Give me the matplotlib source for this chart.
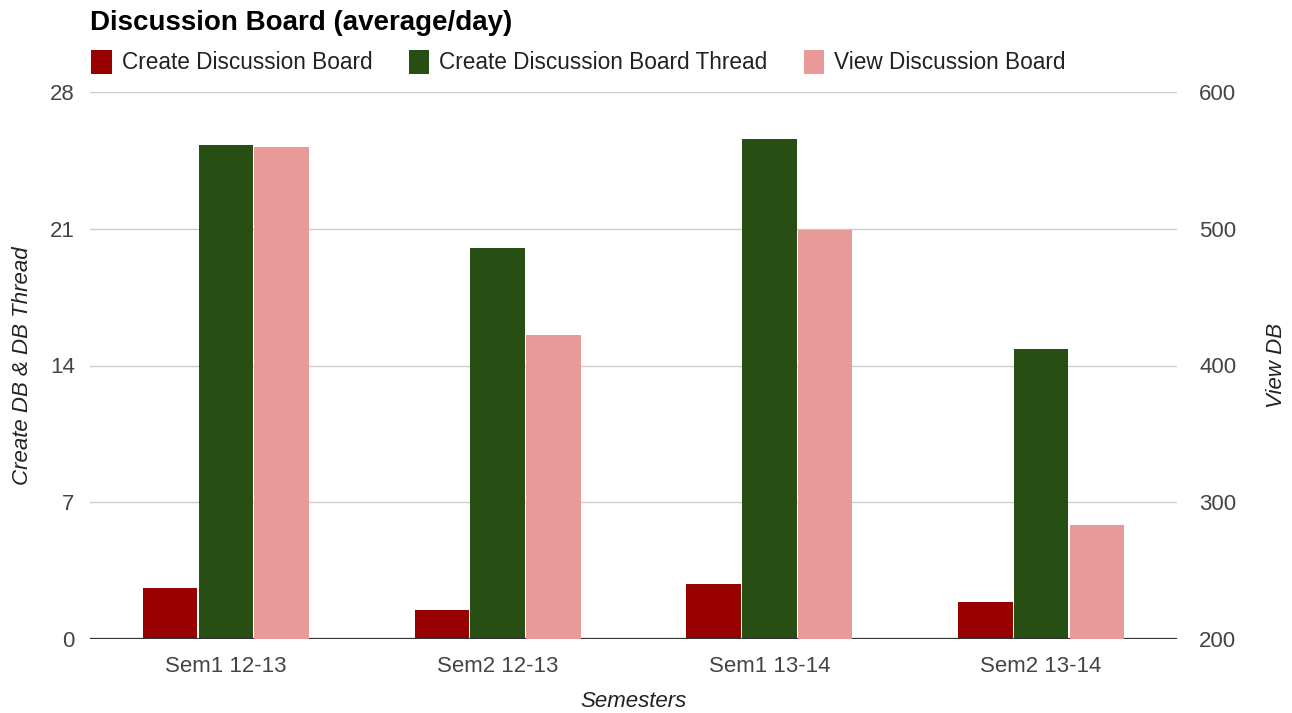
import matplotlib.pyplot as plt
import numpy as np

plt.rcParams['font.family'] = ['Liberation Sans', 'DejaVu Sans']

semesters = ["Sem1 12-13", "Sem2 12-13", "Sem1 13-14", "Sem2 13-14"]
create_db = [2.6, 1.5, 2.8, 1.9]
create_thread = [25.3, 20.0, 25.6, 14.85]
view_db = [560, 422, 499, 283]

c_red = "#990000"
c_green = "#274e13"
c_pink = "#ea9999"
tick_col = "#444444"

x = np.arange(len(semesters))
width = 0.2
off = 0.205

fig = plt.figure(figsize=(12.92, 7.13), dpi=100)
ax = fig.add_axes([90/1292, 1 - 639/713, 1087/1292, 547/713])
ax2 = ax.twinx()

ax.bar(x - off, create_db, width, color=c_red, label="Create Discussion Board", zorder=3)
ax.bar(x, create_thread, width, color=c_green, label="Create Discussion Board Thread", zorder=3)
ax2.bar(x + off, np.array(view_db) - 200, width, bottom=200, color=c_pink,
        label="View Discussion Board", zorder=3)

ax.set_xlim(-0.5, 3.5)
ax.set_ylim(0, 28)
ax2.set_ylim(200, 600)
ax.set_yticks([0, 7, 14, 21, 28])
ax2.set_yticks([200, 300, 400, 500, 600])
ax.set_xticks(x, semesters)

ax.grid(axis="y", color="#cccccc", linewidth=1, zorder=0)
ax.set_axisbelow(True)
for a in (ax, ax2):
    for s in a.spines.values():
        s.set_visible(False)
    a.tick_params(length=0, labelsize=16, colors=tick_col)
ax.tick_params(axis="y", pad=11)
ax2.tick_params(axis="y", pad=16)
ax.tick_params(axis="x", pad=12)
ax.axhline(0, color="#333333", linewidth=1.6, zorder=4)

ax.set_xlabel("Semesters", fontsize=16, style="italic", color="#222222", labelpad=10)
ax.set_ylabel("Create DB & DB Thread", fontsize=16, style="italic", color="#222222", labelpad=12)
ax2.set_ylabel("View DB", fontsize=16, style="italic", color="#222222", rotation=90, labelpad=21)

fig.text(90/1292, 1 - 23/713, "Discussion Board (average/day)", fontsize=20,
         fontweight="bold", va="center", ha="left", color="#000000")

h1, l1 = ax.get_legend_handles_labels()
h2, l2 = ax2.get_legend_handles_labels()
fig.legend(h1 + h2, l1 + l2, loc="center left", bbox_to_anchor=(71/1292, 1 - 62/713),
           ncol=3, frameon=False, fontsize=16.3, handlelength=0.9, handleheight=1.3,
           handletextpad=0.45, columnspacing=1.6, labelcolor="#222222")

fig.savefig("out.png", dpi=100)
